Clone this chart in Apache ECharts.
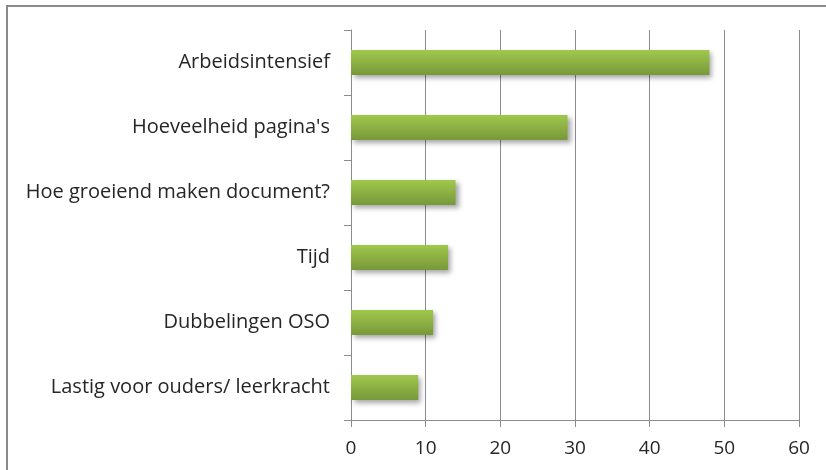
<!DOCTYPE html>
<html><head><meta charset="utf-8">
<script src="https://cdn.jsdelivr.net/npm/echarts@6/dist/echarts.min.js"></script>
<style>html,body{margin:0;padding:0;background:#fff}#c{width:826px;height:470px}</style>
</head><body><div id="c"></div>
<script>
const categories = ["Lastig voor ouders/ leerkracht","Dubbelingen OSO","Tijd","Hoe groeiend maken document?","Hoeveelheid pagina's","Arbeidsintensief"];
const values = [9, 11, 13, 14, 29, 48];
const xTicks = {min: 0, max: 60, interval: 10};

const FONT = '"Open Sans", "DejaVu Sans", sans-serif';
const chart = echarts.init(document.getElementById('c'), null, {renderer: 'canvas'});
chart.setOption({
  animation: false,
  backgroundColor: '#fff',
  graphic: [{
    type: 'rect', shape: {x: 7, y: 6, width: 840, height: 480},
    style: {fill: 'none', stroke: '#8a8a8a', lineWidth: 2}, silent: true
  }],
  grid: {left: 351, right: 27, top: 30, bottom: 50, containLabel: false},
  xAxis: {
    type: 'value', min: xTicks.min, max: xTicks.max, interval: xTicks.interval,
    axisLine: {show: true, lineStyle: {color: '#8c8c8c', width: 1}},
    axisTick: {show: true, length: 7, lineStyle: {color: '#8c8c8c'}},
    splitLine: {show: true, lineStyle: {color: '#8c8c8c', width: 1}},
    axisLabel: {color: '#262626', fontSize: 19, fontFamily: FONT, margin: 19}
  },
  yAxis: {
    type: 'category', data: categories,
    axisLine: {show: true, lineStyle: {color: '#8c8c8c', width: 1}},
    axisTick: {show: true, length: 7, lineStyle: {color: '#8c8c8c'}},
    axisLabel: {color: '#262626', fontSize: 20, fontFamily: FONT, margin: 21}
  },
  series: [{
    type: 'bar', data: values, barWidth: 25,
    itemStyle: {
      color: new echarts.graphic.LinearGradient(0, 0, 0, 1, [
        {offset: 0, color: '#a0c84c'},
        {offset: 1, color: '#78983a'}
      ]),
      shadowColor: 'rgba(0,0,0,0.35)', shadowBlur: 5, shadowOffsetX: 3, shadowOffsetY: 3
    }
  }]
});
</script></body></html>
